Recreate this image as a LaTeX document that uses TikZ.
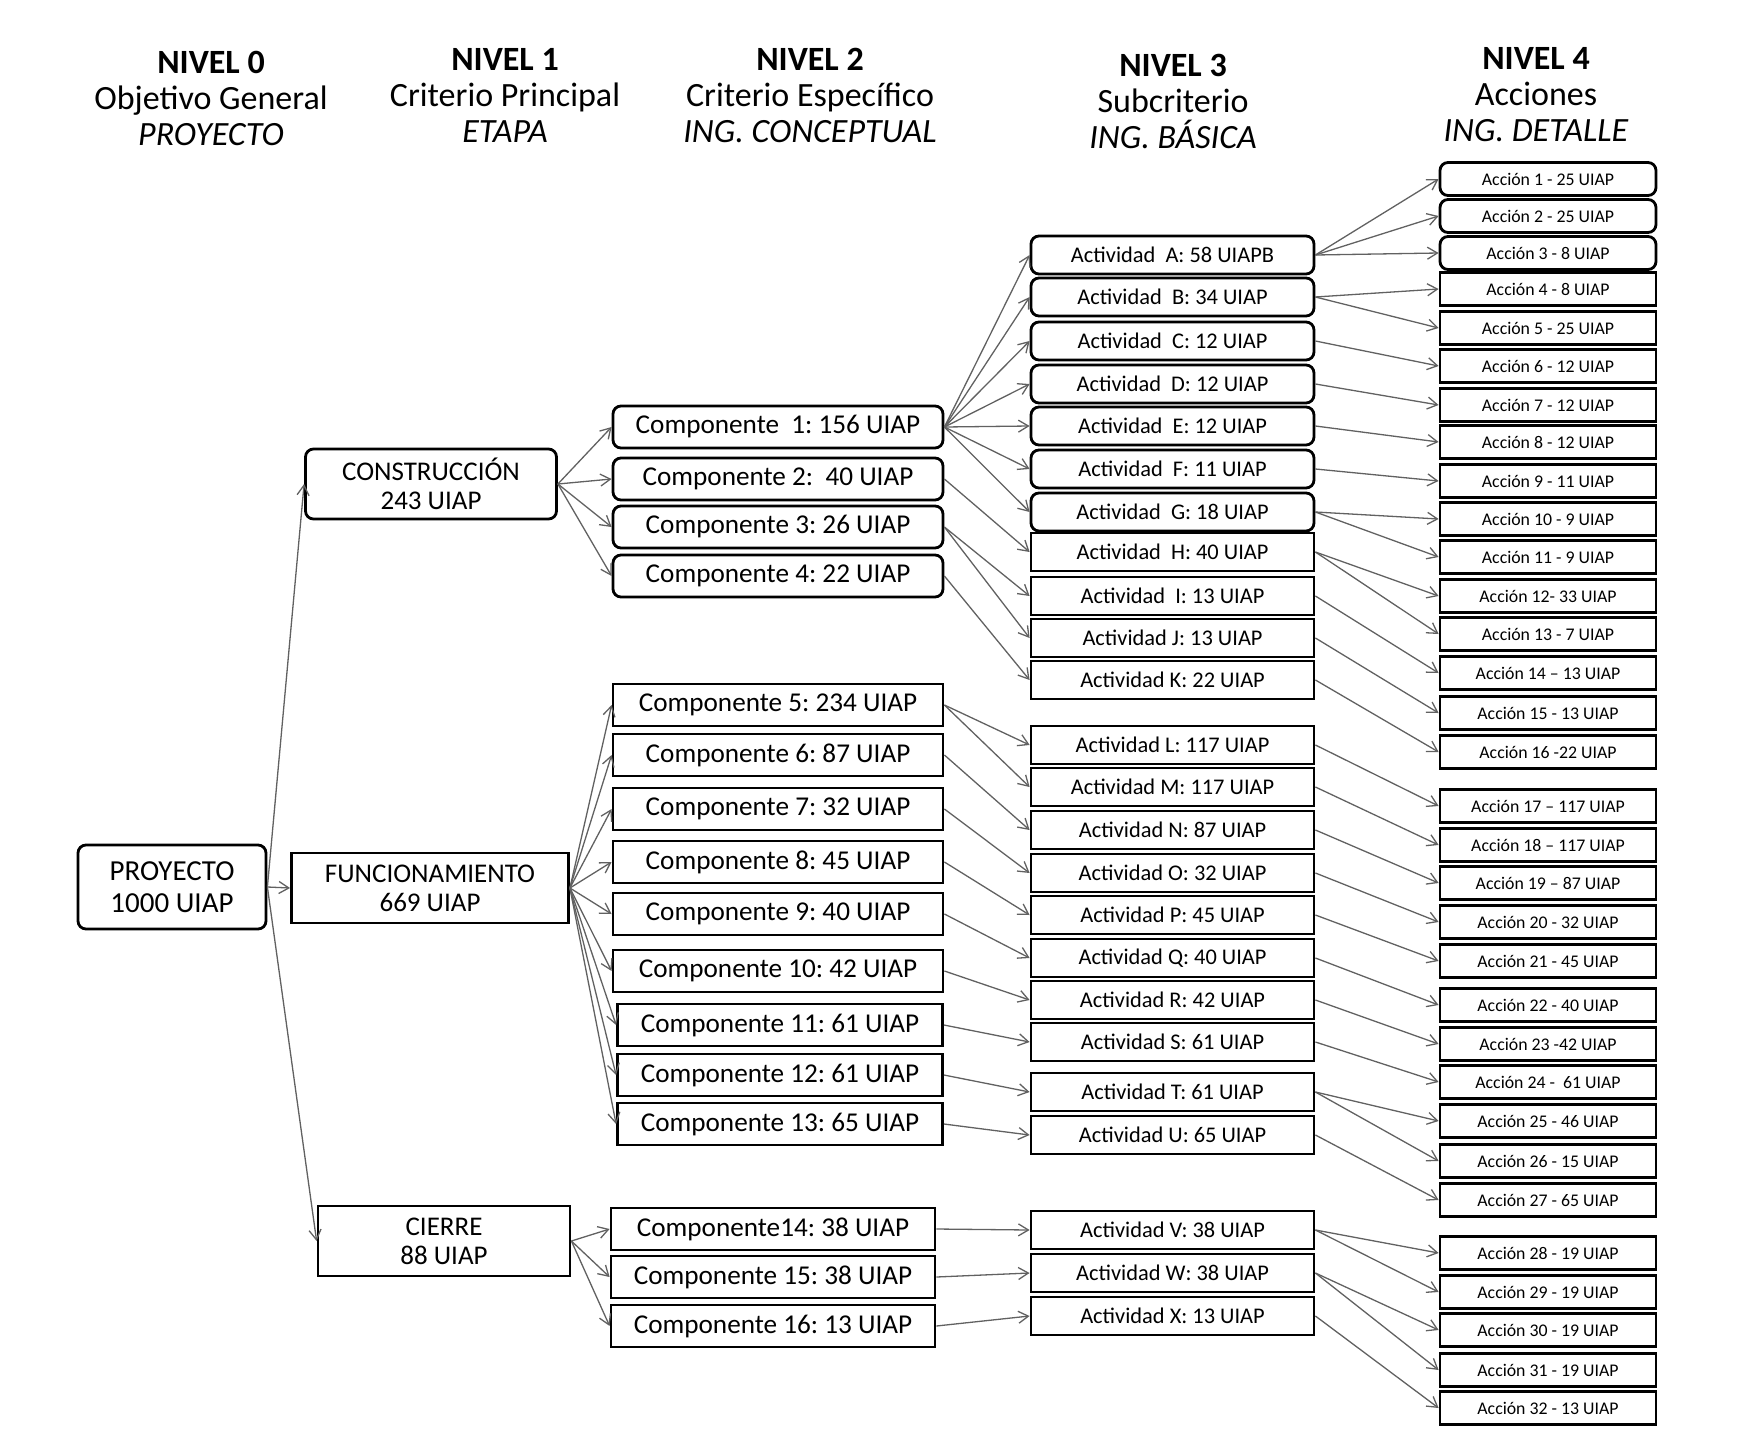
\documentclass[tikz,border=0pt]{standalone}
\usepackage{fontspec}
\setmainfont{Carlito}
\usetikzlibrary{arrows.meta,positioning}
\frenchspacing

\begin{document}
\begin{tikzpicture}[
  x=0.5pt, y=-0.5pt,
  hdr/.style={align=center, font=\fontsize{17}{18}\selectfont},
  base/.style={draw, line width=1.4pt, inner sep=1pt, align=center},
  lvl/.style={base, minimum height=35pt, font=\fontsize{13.5}{14.5}\selectfont},
  comp/.style={base, minimum height=21pt, font=\fontsize{13.6}{15}\selectfont},
  act/.style={base, minimum width=141.5pt, minimum height=19pt, font=\fontsize{11.2}{13}\selectfont},
  acc/.style={base, minimum width=108pt, minimum height=16.5pt, font=\fontsize{8.9}{10}\selectfont},
  rnd/.style={rounded corners=4pt},
  sq/.style={},
  arr/.style={-{Straight Barb[length=5pt,width=6pt]}, draw=black!62, line width=0.65pt}
  ]
  \useasboundingbox (0,0) rectangle (1739,1445);

  % encabezados
  \node[hdr] (h0) at (211,98) {\textbf{NIVEL 0}\\Objetivo General\\\textit{PROYECTO}};
  \node[hdr] (h1) at (505,95) {\textbf{NIVEL 1}\\Criterio Principal\\\textit{ETAPA}};
  \node[hdr] (h2) at (810,95) {\textbf{NIVEL 2}\\Criterio Específico\\\textit{ING. CONCEPTUAL}};
  \node[hdr] (h3) at (1173,101) {\textbf{NIVEL 3}\\Subcriterio\\\textit{ING. BÁSICA}};
  \node[hdr] (h4) at (1536,95) {\textbf{NIVEL 4}\\Acciones\\\textit{ING. DETALLE}};

  % nivel 0 y 1
  \node[lvl, rnd, minimum width=94pt, minimum height=42pt, font=\fontsize{14.5}{16}\selectfont] (pro) at (172,887) {PROYECTO\\1000 UIAP};
  \node[lvl, rnd, minimum width=125.5pt] (con) at (431,484) {CONSTRUCCIÓN\\243 UIAP};
  \node[lvl, minimum width=138.5pt] (fun) at (430,888) {FUNCIONAMIENTO\\669 UIAP};
  \node[lvl, minimum width=126pt] (cie) at (444,1241) {CIERRE\\88 UIAP};

  % nivel 2
  \foreach \i/\x/\y/\w/\s/\t in {
    1/778/427/165/rnd/Componente\ \ 1: 156 UIAP,
    2/778/479/165/rnd/Componente 2:\ \ 40 UIAP,
    3/778/527/165/rnd/Componente 3: 26 UIAP,
    4/778/576/165/rnd/Componente 4: 22 UIAP,
    5/778/705/165/sq/Componente 5: 234 UIAP,
    6/778/755/165/sq/Componente 6: 87 UIAP,
    7/778/809/165/sq/Componente 7: 32 UIAP,
    8/778/862/165/sq/Componente 8: 45 UIAP,
    9/778/914/165/sq/Componente 9: 40 UIAP,
    10/778/971/165/sq/Componente 10: 42 UIAP,
    11/780/1025/162.5/sq/Componente 11: 61 UIAP,
    12/780/1075/162.5/sq/Componente 12: 61 UIAP,
    13/780/1124/162.5/sq/Componente 13: 65 UIAP,
    14/773/1229/162/sq/Componente14: 38 UIAP,
    15/773/1277/162/sq/Componente 15: 38 UIAP,
    16/773/1326/162/sq/Componente 16: 13 UIAP}
    \node[comp, \s, minimum width=\w pt] (comp\i) at (\x,\y) {\t};

  % nivel 3
  \foreach \i/\y/\s/\t in {
    A/255/rnd/Actividad\ \ A: 58 UIAPB, B/297/rnd/Actividad\ \ B: 34 UIAP,
    C/341/rnd/Actividad\ \ C: 12 UIAP, D/384/rnd/Actividad\ \ D: 12 UIAP,
    E/426/rnd/Actividad\ \ E: 12 UIAP, F/469/rnd/Actividad\ \ F: 11 UIAP,
    G/512/rnd/Actividad\ \ G: 18 UIAP, H/552/sq/Actividad\ \ H: 40 UIAP,
    I/596/sq/Actividad\ \ I: 13 UIAP, J/638/sq/Actividad J: 13 UIAP,
    K/680/sq/Actividad K: 22 UIAP, L/745/sq/Actividad L: 117 UIAP,
    M/787/sq/Actividad M: 117 UIAP, N/830/sq/Actividad N: 87 UIAP,
    O/873/sq/Actividad O: 32 UIAP, P/915/sq/Actividad P: 45 UIAP,
    Q/958/sq/Actividad Q: 40 UIAP, R/1000/sq/Actividad R: 42 UIAP,
    S/1042/sq/Actividad S: 61 UIAP, T/1092/sq/Actividad T: 61 UIAP,
    U/1135/sq/Actividad U: 65 UIAP, V/1230/sq/Actividad V: 38 UIAP,
    W/1273/sq/Actividad W: 38 UIAP, X/1316/sq/Actividad X: 13 UIAP}
    \node[act, \s] (act\i) at (1172.5,\y) {\t};

  % nivel 4
  \foreach \i/\y/\s/\t in {
    1/179/rnd/Acción 1 - 25 UIAP, 2/216/rnd/Acción 2 - 25 UIAP,
    3/253/rnd/Acción 3 - 8 UIAP, 4/289/sq/Acción 4 - 8 UIAP,
    5/328/sq/Acción 5 - 25 UIAP, 6/366/sq/Acción 6 - 12 UIAP,
    7/405/sq/Acción 7 - 12 UIAP, 8/442/sq/Acción 8 - 12 UIAP,
    9/481/sq/Acción 9 - 11 UIAP, 10/519/sq/Acción 10 - 9 UIAP,
    11/557/sq/Acción 11 - 9 UIAP, 12/596/sq/Acción 12- 33 UIAP,
    13/634/sq/Acción 13 - 7 UIAP, 14/673/sq/Acción 14 – 13 UIAP,
    15/713/sq/Acción 15 - 13 UIAP, 16/752/sq/Acción 16 -22 UIAP,
    17/806/sq/Acción 17 – 117 UIAP, 18/845/sq/Acción 18 – 117 UIAP,
    19/883/sq/Acción 19 – 87 UIAP, 20/922/sq/Acción 20 - 32 UIAP,
    21/961/sq/Acción 21 - 45 UIAP, 22/1005/sq/Acción 22 - 40 UIAP,
    23/1044/sq/Acción 23 -42 UIAP, 24/1082/sq/Acción 24 -\ \ 61 UIAP,
    25/1121/sq/Acción 25 - 46 UIAP, 26/1161/sq/Acción 26 - 15 UIAP,
    27/1200/sq/Acción 27 - 65 UIAP, 28/1253/sq/Acción 28 - 19 UIAP,
    29/1292/sq/Acción 29 - 19 UIAP, 30/1330/sq/Acción 30 - 19 UIAP,
    31/1370/sq/Acción 31 - 19 UIAP, 32/1408/sq/Acción 32 - 13 UIAP}
    \node[acc, \s] (acc\i) at (1548,\y) {\t};

  % conectores
  \foreach \a/\b in {pro/con, pro/fun, pro/cie,
    con/comp1, con/comp2, con/comp3, con/comp4,
    fun/comp5, fun/comp6, fun/comp7, fun/comp8, fun/comp9,
    fun/comp10, fun/comp11, fun/comp12, fun/comp13,
    cie/comp14, cie/comp15, cie/comp16,
    comp1/actA, comp1/actB, comp1/actC, comp1/actD, comp1/actE, comp1/actF, comp1/actG,
    comp2/actH, comp3/actI, comp3/actJ, comp4/actK,
    comp5/actL, comp5/actM, comp6/actN, comp7/actO, comp8/actP, comp9/actQ,
    comp10/actR, comp11/actS, comp12/actT, comp13/actU,
    comp14/actV, comp15/actW, comp16/actX,
    actA/acc1, actA/acc2, actA/acc3, actB/acc4, actB/acc5, actC/acc6, actD/acc7,
    actE/acc8, actF/acc9, actG/acc10, actG/acc11, actH/acc12, actH/acc13,
    actI/acc14, actJ/acc15, actK/acc16, actL/acc17, actM/acc18, actN/acc19,
    actO/acc20, actP/acc21, actQ/acc22, actR/acc23, actS/acc24,
    actT/acc25, actT/acc26, actU/acc27,
    actV/acc28, actV/acc29, actW/acc30, actW/acc31, actX/acc32}
    \draw[arr] (\a.east) -- (\b.west);
\end{tikzpicture}
\end{document}
